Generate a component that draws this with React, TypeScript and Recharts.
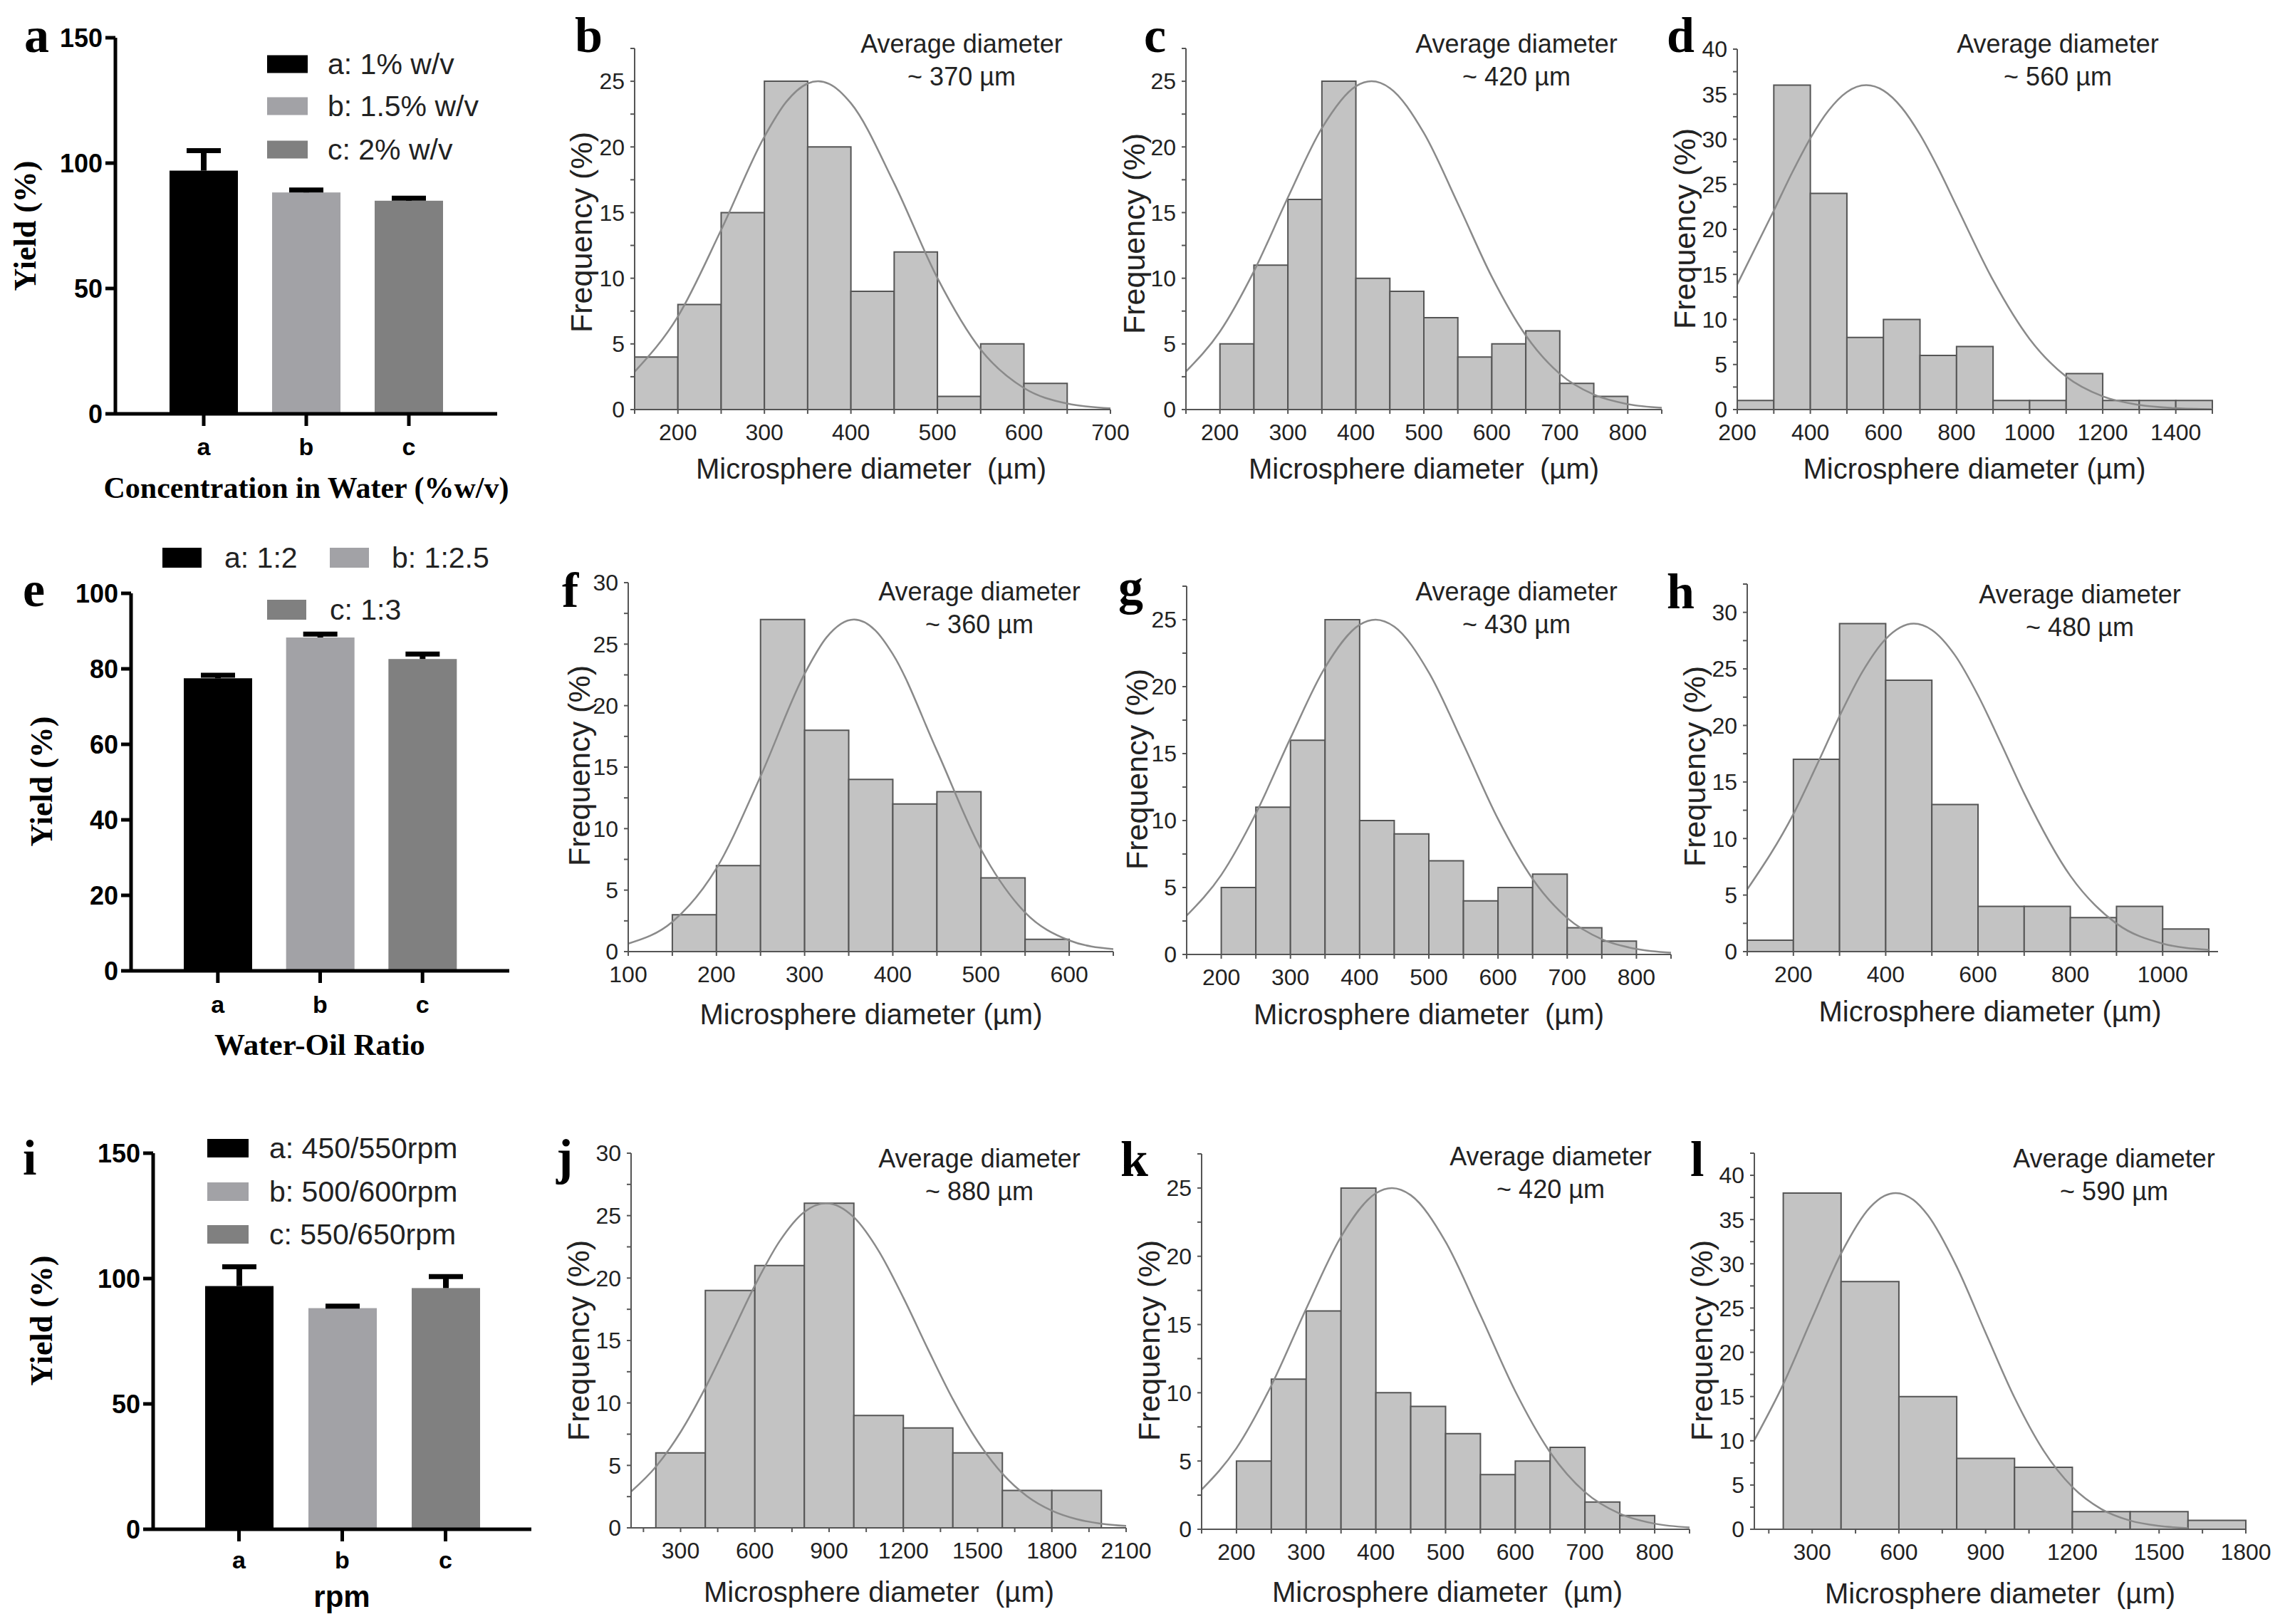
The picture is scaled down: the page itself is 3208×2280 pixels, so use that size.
import React from "react";
import { BarChart, Bar, XAxis, YAxis, ComposedChart, Line, ReferenceArea } from "recharts";

const SANS = "'Liberation Sans', Arial, sans-serif";
const SERIF = "'Liberation Serif', 'Times New Roman', serif";

// ---------- yield panels (a, e, i) ----------
const yieldCategories = ["a", "b", "c"];
const yieldColors = ["#000000", "#a2a2a6", "#808080"];

const concLegend = ["a: 1% w/v", "b: 1.5% w/v", "c: 2% w/v"];
const concYield = [97, 88.3, 85];
const concErr = [8, 1, 1];

const ratioLegend = ["a: 1:2", "b: 1:2.5", "c: 1:3"];
const ratioYield = [77.5, 88.3, 82.6];
const ratioErr = [0.8, 0.9, 1.3];

const rpmLegend = ["a: 450/550rpm", "b: 500/600rpm", "c: 550/650rpm"];
const rpmYield = [97, 88.2, 96.2];
const rpmErr = [7.7, 0.8, 4.6];

const yieldTicks150 = [0, 50, 100, 150];
const yieldTicks100 = [0, 20, 40, 60, 80, 100];

// ---------- size distributions ----------
const avgDiameter = [370, 420, 560, 360, 430, 480, 880, 420, 590];

const bEdges = [150, 200, 250, 300, 350, 400, 450, 500, 550, 600, 650];
const bFreq = [4, 8, 15, 25, 20, 9, 12, 1, 5, 2];
const bCurveX = [150, 200, 250, 300, 325, 350, 362, 375, 400, 450, 500, 550, 600, 650, 700];
const bCurveY = [2.88, 7.09, 13.68, 20.78, 23.41, 24.83, 25, 24.8, 23.33, 17.23, 10.01, 4.57, 1.64, 0.46, 0.1];

// c, g and k show the same distribution
const cEdges = [200, 250, 300, 350, 400, 450, 500, 550, 600, 650, 700, 750, 800];
const cFreq = [5, 11, 16, 25, 10, 9, 7, 4, 5, 6, 2, 1];
const cCurveX = [150, 200, 250, 300, 350, 400, 423, 450, 500, 550, 600, 650, 700, 750, 800, 850];
const cCurveY = [2.9, 5.94, 10.53, 16.15, 21.43, 24.62, 25, 24.48, 21.06, 15.69, 10.11, 5.64, 2.72, 1.14, 0.41, 0.13];

const dEdges = [200, 300, 400, 500, 600, 700, 800, 900, 1000, 1100, 1200, 1300, 1400, 1500];
const dFreq = [1, 36, 24, 8, 10, 6, 7, 1, 1, 4, 1, 1, 1];
const dCurveX = [200, 300, 350, 400, 450, 500, 553, 600, 650, 700, 750, 800, 900, 1000, 1100, 1200, 1300, 1400, 1500];
const dCurveY = [13.9, 22.08, 26.28, 30.11, 33.2, 35.24, 36, 35.4, 33.51, 30.52, 26.77, 22.59, 14.35, 7.83, 3.66, 1.47, 0.51, 0.15, 0.04];

const fEdges = [150, 200, 250, 300, 350, 400, 450, 500, 550, 600];
const fFreq = [3, 7, 27, 18, 14, 12, 13, 6, 1];
const fCurveX = [100, 150, 200, 250, 300, 325, 356, 380, 400, 450, 500, 550, 600, 650];
const fCurveY = [0.65, 2.42, 6.77, 14.25, 22.59, 25.56, 27, 26.13, 24.19, 16.34, 8.31, 3.18, 0.91, 0.2];

const hEdges = [100, 200, 300, 400, 500, 600, 700, 800, 900, 1000, 1100];
const hFreq = [1, 17, 29, 24, 13, 4, 4, 3, 4, 2];
const hCurveX = [100, 200, 250, 300, 350, 400, 461, 500, 550, 600, 650, 700, 800, 900, 1000, 1100];
const hCurveY = [5.5, 12.16, 16.43, 20.83, 24.78, 27.65, 29, 28.44, 26.21, 22.66, 18.39, 13.99, 6.7, 2.48, 0.71, 0.16];

const jEdges = [200, 400, 600, 800, 1000, 1200, 1400, 1600, 1800, 2000];
const jFreq = [6, 19, 21, 26, 9, 8, 6, 3, 3];
const jCurveX = [100, 200, 300, 400, 500, 600, 700, 800, 888, 1000, 1100, 1200, 1300, 1400, 1500, 1600, 1700, 1800, 1900, 2000, 2100];
const jCurveY = [2.9, 4.89, 7.67, 11.21, 15.28, 19.4, 22.95, 25.3, 26, 24.87, 22.18, 18.43, 14.28, 10.3, 6.93, 4.34, 2.53, 1.38, 0.7, 0.33, 0.15];

const lEdges = [200, 400, 600, 800, 1000, 1200, 1400, 1600, 1800];
const lFreq = [38, 28, 15, 8, 7, 2, 2, 1];
const lCurveX = [100, 200, 300, 400, 500, 550, 589, 650, 700, 800, 900, 1000, 1100, 1200, 1300, 1400, 1500, 1600];
const lCurveY = [10.07, 16.39, 23.89, 31.16, 36.37, 37.68, 38, 37.22, 35.49, 29.67, 22.2, 14.87, 8.91, 4.78, 2.29, 0.98, 0.38, 0.13];

const ticks150to700 = [200, 300, 400, 500, 600, 700];
const ticks200to800 = [200, 300, 400, 500, 600, 700, 800];
const ticks200to1400 = [200, 400, 600, 800, 1000, 1200, 1400];
const ticks100to600 = [100, 200, 300, 400, 500, 600];
const ticks200to1000 = [200, 400, 600, 800, 1000];
const ticks300to2100 = [300, 600, 900, 1200, 1500, 1800, 2100];
const ticks300to1800 = [300, 600, 900, 1200, 1500, 1800];
const freqTicks25 = [0, 5, 10, 15, 20, 25];
const freqTicks30 = [0, 5, 10, 15, 20, 25, 30];
const freqTicks40 = [0, 5, 10, 15, 20, 25, 30, 35, 40];

type Box = { left: number; top: number; right: number; bottom: number };

const histPanels = [
  { id: "b", box: { left: 891, top: 68, right: 1559, bottom: 575 }, edges: bEdges, freq: bFreq, cx: bCurveX, cy: bCurveY, xDomain: [150, 700], xTicks: ticks150to700, yMax: 27.5, yTicks: freqTicks25 },
  { id: "c", box: { left: 1665, top: 68, right: 2333, bottom: 575 }, edges: cEdges, freq: cFreq, cx: cCurveX, cy: cCurveY, xDomain: [150, 850], xTicks: ticks200to800, yMax: 27.5, yTicks: freqTicks25 },
  { id: "d", box: { left: 2439, top: 69, right: 3106, bottom: 575 }, edges: dEdges, freq: dFreq, cx: dCurveX, cy: dCurveY, xDomain: [200, 1500], xTicks: ticks200to1400, yMax: 40, yTicks: freqTicks40 },
  { id: "f", box: { left: 882, top: 818, right: 1563, bottom: 1336 }, edges: fEdges, freq: fFreq, cx: fCurveX, cy: fCurveY, xDomain: [100, 650], xTicks: ticks100to600, yMax: 30, yTicks: freqTicks30 },
  { id: "g", box: { left: 1666, top: 823, right: 2346, bottom: 1340 }, edges: cEdges, freq: cFreq, cx: cCurveX, cy: cCurveY, xDomain: [150, 850], xTicks: ticks200to800, yMax: 27.5, yTicks: freqTicks25 },
  { id: "h", box: { left: 2453, top: 820, right: 3114, bottom: 1336 }, edges: hEdges, freq: hFreq, cx: hCurveX, cy: hCurveY, xDomain: [100, 1120], xTicks: ticks200to1000, yMax: 32.5, yTicks: freqTicks30 },
  { id: "j", box: { left: 886, top: 1619, right: 1581, bottom: 2145 }, edges: jEdges, freq: jFreq, cx: jCurveX, cy: jCurveY, xDomain: [100, 2100], xTicks: ticks300to2100, yMax: 30, yTicks: freqTicks30 },
  { id: "k", box: { left: 1687, top: 1620, right: 2372, bottom: 2147 }, edges: cEdges, freq: cFreq, cx: cCurveX, cy: cCurveY, xDomain: [150, 850], xTicks: ticks200to800, yMax: 27.5, yTicks: freqTicks25 },
  { id: "l", box: { left: 2463, top: 1619, right: 3153, bottom: 2147 }, edges: lEdges, freq: lFreq, cx: lCurveX, cy: lCurveY, xDomain: [100, 1800], xTicks: ticks300to1800, yMax: 42.5, yTicks: freqTicks40 },
];

// text placement for the distribution panels
const histText = [
  { avgX: 1350, avgY: 74, xt: [1223, 668], yt: [816, 326], wide: true },
  { avgX: 2129, avgY: 74, xt: [1999, 668], yt: [1592, 328], wide: true },
  { avgX: 2889, avgY: 74, xt: [2772, 668], yt: [2365, 321], wide: false },
  { avgX: 1375, avgY: 843, xt: [1223, 1434], yt: [813, 1075], wide: false },
  { avgX: 2129, avgY: 843, xt: [2006, 1434], yt: [1596, 1080], wide: true },
  { avgX: 2920, avgY: 847, xt: [2794, 1430], yt: [2379, 1076], wide: false },
  { avgX: 1375, avgY: 1639, xt: [1234, 2245], yt: [812, 1882], wide: true },
  { avgX: 2177, avgY: 1636, xt: [2032, 2245], yt: [1613, 1882], wide: true },
  { avgX: 2968, avgY: 1639, xt: [2808, 2247], yt: [2389, 1882], wide: true },
];

const panelLetters = [
  { t: "a", x: 34, y: 73 }, { t: "b", x: 807, y: 73 }, { t: "c", x: 1606, y: 73 }, { t: "d", x: 2340, y: 73 },
  { t: "e", x: 32, y: 851 }, { t: "f", x: 789, y: 852 }, { t: "g", x: 1570, y: 848 }, { t: "h", x: 2340, y: 854 },
  { t: "i", x: 32, y: 1649 }, { t: "j", x: 781, y: 1648 }, { t: "k", x: 1573, y: 1651 }, { t: "l", x: 2373, y: 1651 },
];

function withMinor(major: number[], lo: number, hi: number) {
  const step = major[1] - major[0];
  const out: number[] = [];
  for (let v = major[0] - step / 2; v <= hi + 1e-6; v += step / 2) {
    if (v >= lo - 1e-6) out.push(Math.round(v * 100) / 100);
  }
  return out;
}

function YieldBarShape(props: any) {
  const { x, y, width, height, payload } = props;
  const perUnit = payload.value > 0 ? height / payload.value : 0;
  const top = y - payload.err * perUnit;
  const cx = x + width / 2;
  return (
    <g>
      <rect x={x} y={y} width={width} height={height} fill={payload.color} />
      <line x1={cx} x2={cx} y1={y} y2={top} stroke="#000" strokeWidth={8} />
      <line x1={cx - 24} x2={cx + 24} y1={top} y2={top} stroke="#000" strokeWidth={7} />
    </g>
  );
}

function YieldChart({ box, values, errors, ticks, max, pad, labelGap }: { box: Box; values: number[]; errors: number[]; ticks: number[]; max: number; pad: number; labelGap: number }) {
  const L = 160, T = 20, R = 20, B = 90;
  const data = yieldCategories.map((cat, i) => ({ cat, value: values[i], err: errors[i], color: yieldColors[i] }));
  const w = L + (box.right - box.left) + R;
  const h = T + (box.bottom - box.top) + B;
  const axisStyle = { stroke: "#000", strokeWidth: 5 };
  return (
    <div style={{ position: "absolute", left: box.left - L, top: box.top - T }}>
      <BarChart width={w} height={h} data={data} margin={{ top: T, right: R, bottom: 0, left: 0 }}>
        <XAxis
          dataKey="cat"
          height={B}
          padding={{ left: pad, right: pad }}
          tickSize={17}
          tickMargin={labelGap}
          axisLine={axisStyle}
          tickLine={axisStyle}
          tick={{ fontSize: 34, fontWeight: 700, fill: "#000", fontFamily: SANS }}
        />
        <YAxis
          width={L}
          domain={[0, max]}
          ticks={ticks}
          interval={0}
          tickSize={14}
          tickMargin={4}
          axisLine={axisStyle}
          tickLine={axisStyle}
          tick={{ fontSize: 36, fontWeight: 700, fill: "#000", fontFamily: SANS }}
        />
        <Bar dataKey="value" barSize={96} isAnimationActive={false} shape={(p: any) => <YieldBarShape {...p} />} />
      </BarChart>
    </div>
  );
}

function Histogram({ panel }: { panel: (typeof histPanels)[number] }) {
  const { box, edges, freq, cx, cy, xDomain, xTicks, yMax, yTicks } = panel;
  const L = 80, T = 20, R = 55, B = 70;
  const w = L + (box.right - box.left) + R;
  const h = T + (box.bottom - box.top) + B;
  const data = cx.map((x, i) => ({ x, y: cy[i] }));
  const xAll = withMinor(xTicks, xDomain[0], xDomain[1]);
  const yAll = withMinor(yTicks, 0, yMax);
  const fmt = (major: number[]) => (v: number) => (major.some((m) => Math.abs(m - v) < 1e-6) ? String(v) : "");
  const axisStyle = { stroke: "#555", strokeWidth: 2 };
  const tickStyle = { fontSize: 32, fill: "#222", fontFamily: SANS };
  return (
    <div style={{ position: "absolute", left: box.left - L, top: box.top - T }}>
      <ComposedChart width={w} height={h} data={data} margin={{ top: T, right: R, bottom: 0, left: 0 }}>
        <XAxis
          type="number"
          dataKey="x"
          domain={xDomain}
          ticks={xAll}
          interval={0}
          allowDataOverflow
          height={B}
          tickSize={6}
          tickMargin={14}
          tickFormatter={fmt(xTicks)}
          axisLine={axisStyle}
          tickLine={axisStyle}
          tick={tickStyle}
        />
        <YAxis
          type="number"
          width={L}
          domain={[0, yMax]}
          ticks={yAll}
          interval={0}
          allowDataOverflow
          tickSize={6}
          tickMargin={8}
          tickFormatter={fmt(yTicks)}
          axisLine={axisStyle}
          tickLine={axisStyle}
          tick={tickStyle}
        />
        {freq.map((v, i) => (
          <ReferenceArea
            key={i}
            x1={edges[i]}
            x2={edges[i + 1]}
            y1={0}
            y2={v}
            fill="#c3c3c3"
            fillOpacity={1}
            stroke="#555"
            strokeWidth={2}
            ifOverflow="visible"
          />
        ))}
        <Line type="monotone" dataKey="y" stroke="#8a8a8a" strokeWidth={2.5} dot={false} isAnimationActive={false} />
      </ComposedChart>
    </div>
  );
}

function Legend({ labels, items, sw, sh }: { labels: string[]; items: { sx: number; cy: number; tx: number }[]; sw: number; sh: number }) {
  return (
    <g>
      {labels.map((lab, i) => (
        <g key={lab}>
          <rect x={items[i].sx} y={items[i].cy - sh / 2} width={sw} height={sh} fill={yieldColors[i]} />
          <text x={items[i].tx} y={items[i].cy + 14} fontSize={41} fill="#222" fontFamily={SANS}>
            {lab}
          </text>
        </g>
      ))}
    </g>
  );
}

function Rotated({ x, y, children, font, size, weight }: { x: number; y: number; children: React.ReactNode; font: string; size: number; weight?: number }) {
  return (
    <text
      x={x}
      y={y}
      transform={`rotate(-90 ${x} ${y})`}
      textAnchor="middle"
      dominantBaseline="central"
      fontSize={size}
      fontFamily={font}
      fontWeight={weight ?? 400}
      fill={weight ? "#000" : "#222"}
    >
      {children}
    </text>
  );
}

export default function App() {
  return (
    <div style={{ position: "absolute", left: 0, top: 0, width: 3208, height: 2280, background: "#fff", overflow: "hidden" }}>
      <YieldChart box={{ left: 162, top: 53, right: 698, bottom: 581 }} values={concYield} errors={concErr} ticks={yieldTicks150} max={150} pad={52} labelGap={17} />
      <YieldChart box={{ left: 184, top: 833, right: 715, bottom: 1363 }} values={ratioYield} errors={ratioErr} ticks={yieldTicks100} max={100} pad={50} labelGap={18} />
      <YieldChart box={{ left: 215, top: 1619, right: 746, bottom: 2147 }} values={rpmYield} errors={rpmErr} ticks={yieldTicks150} max={150} pad={48} labelGap={14} />
      {histPanels.map((p) => (
        <Histogram key={p.id} panel={p} />
      ))}
      <svg width={3208} height={2280} style={{ position: "absolute", left: 0, top: 0, pointerEvents: "none" }}>
        {panelLetters.map((l) => (
          <text key={l.t} x={l.x} y={l.y} fontSize={70} fontWeight={700} fontFamily={SERIF} fill="#000">
            {l.t}
          </text>
        ))}

        <Legend labels={concLegend} sw={57} sh={25} items={[{ sx: 375, cy: 90, tx: 460 }, { sx: 375, cy: 149, tx: 460 }, { sx: 375, cy: 210, tx: 460 }]} />
        <Legend labels={ratioLegend} sw={55} sh={28} items={[{ sx: 228, cy: 783, tx: 315 }, { sx: 463, cy: 783, tx: 550 }, { sx: 375, cy: 856, tx: 463 }]} />
        <Legend labels={rpmLegend} sw={58} sh={26} items={[{ sx: 291, cy: 1612, tx: 378 }, { sx: 291, cy: 1673, tx: 378 }, { sx: 291, cy: 1733, tx: 378 }]} />

        <Rotated x={35} y={317} font={SERIF} size={44} weight={700}>Yield (%)</Rotated>
        <Rotated x={58} y={1097} font={SERIF} size={44} weight={700}>Yield (%)</Rotated>
        <Rotated x={58} y={1854} font={SERIF} size={44} weight={700}>Yield (%)</Rotated>
        <text x={430} y={699} textAnchor="middle" fontSize={42} fontWeight={700} fontFamily={SERIF} fill="#000">
          Concentration in Water (%w/v)
        </text>
        <text x={449} y={1481} textAnchor="middle" fontSize={43} fontWeight={700} fontFamily={SERIF} fill="#000">
          Water-Oil Ratio
        </text>
        <text x={480} y={2256} textAnchor="middle" fontSize={42} fontWeight={700} fontFamily={SANS} fill="#000">
          rpm
        </text>

        {histText.map((t, i) => (
          <g key={i}>
            <text x={t.avgX} y={t.avgY} textAnchor="middle" fontSize={36} fontFamily={SANS} fill="#222">
              Average diameter
            </text>
            <text x={t.avgX} y={t.avgY + 46} textAnchor="middle" fontSize={36} fontFamily={SANS} fill="#222">
              {`~ ${avgDiameter[i]} µm`}
            </text>
            <text x={t.xt[0]} y={t.xt[1] + 4} textAnchor="middle" fontSize={40} fontFamily={SANS} fill="#222" style={{ whiteSpace: "pre" }}>
              {t.wide ? "Microsphere diameter  (µm)" : "Microsphere diameter (µm)"}
            </text>
            <Rotated x={t.yt[0]} y={t.yt[1]} font={SANS} size={43}>Frequency (%)</Rotated>
          </g>
        ))}
      </svg>
    </div>
  );
}
